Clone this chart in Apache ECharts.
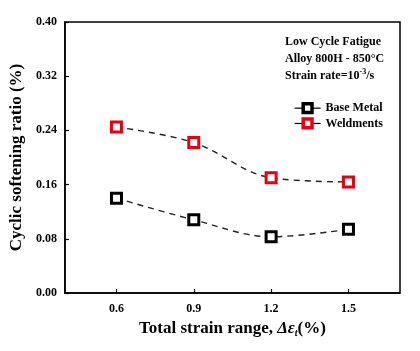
<!DOCTYPE html>
<html><head><meta charset="utf-8">
<script src="https://cdn.jsdelivr.net/npm/echarts@6/dist/echarts.min.js"></script>
<style>html,body{margin:0;padding:0;background:#fff}#c{width:420px;height:351px}</style>
</head><body><div id="c"></div>
<script>
const strain = [0.6, 0.9, 1.2, 1.5];
const baseMetal = [0.140, 0.108, 0.083, 0.094];
const weldments = [0.245, 0.222, 0.170, 0.164];
const xTicks = [0.6, 0.9, 1.2, 1.5];
const seriesNames = ['Base Metal', 'Weldments'];
const F = 'Liberation Serif';

const chart = echarts.init(document.getElementById('c'));
function mk(name, vals, color) {
  return {
    name: name, type: 'line', smooth: 0.35,
    data: strain.map((x, i) => [x, vals[i]]),
    symbol: 'rect', symbolSize: 10,
    itemStyle: { color: '#fff', borderColor: color, borderWidth: 3 },
    lineStyle: { color: '#222', width: 1.4, type: [6, 5] },
    emphasis: { disabled: true }
  };
}
chart.setOption({
  animation: false,
  grid: { left: 63, top: 22, right: 20, bottom: 58, show: true, borderColor: '#000', borderWidth: 1.5 },
  xAxis: {
    type: 'value', min: 0.4, max: 1.7,
    name: '{n|Total strain range, }{i|Δε}{s|t}{n|(%)}',
    nameLocation: 'middle', nameGap: 26,
    nameTextStyle: { rich: {
      n: { fontFamily: F, fontWeight: 'bold', fontSize: 17, color: '#000' },
      i: { fontFamily: F, fontWeight: 'bold', fontStyle: 'italic', fontSize: 17, color: '#000' },
      s: { fontFamily: F, fontWeight: 'bold', fontStyle: 'italic', fontSize: 10, color: '#000', padding: [9, 0, 0, 0] }
    } },
    axisLine: { show: true, lineStyle: { color: '#000', width: 1.5 } },
    axisTick: { show: true, inside: true, length: 4, customValues: xTicks, lineStyle: { color: '#000', width: 1.2 } },
    axisLabel: { customValues: xTicks, formatter: v => v.toFixed(1), fontFamily: F, fontWeight: 'bold', fontSize: 12, color: '#000', margin: 10 },
    splitLine: { show: false }
  },
  yAxis: {
    type: 'value', min: 0, max: 0.4, interval: 0.08,
    name: 'Cyclic softening ratio (%)', nameLocation: 'middle', nameGap: 31,
    nameTextStyle: { fontFamily: F, fontWeight: 'bold', fontSize: 17, color: '#000' },
    axisLine: { show: true, lineStyle: { color: '#000', width: 1.5 } },
    axisTick: { show: true, inside: true, length: 4, lineStyle: { color: '#000', width: 1.2 } },
    axisLabel: { formatter: v => v.toFixed(2), fontFamily: F, fontWeight: 'bold', fontSize: 12, color: '#000', margin: 8 },
    splitLine: { show: false }
  },
  legend: {
    data: seriesNames, orient: 'vertical', left: 289, top: 97,
    itemWidth: 26, itemHeight: 11, itemGap: 3,
    lineStyle: { type: 'solid', color: '#000', width: 1.2 },
    itemStyle: { borderWidth: 3.5 },
    textStyle: { fontFamily: F, fontWeight: 'bold', fontSize: 12, color: '#000' },
    selectedMode: false
  },
  graphic: [{
    type: 'text', left: 285, top: 36,
    style: {
      text: '{a|Low Cycle Fatigue}\n{a|Alloy 800H - 850°C}\n{a|Strain rate=10}{s|-3}{a|/s}',
      rich: {
        a: { fontFamily: F, fontWeight: 'bold', fontSize: 12, fill: '#000', lineHeight: 17 },
        s: { fontFamily: F, fontWeight: 'bold', fontSize: 8, fill: '#000', lineHeight: 17, verticalAlign: 'top', padding: [0, 0, 6, 0] }
      }
    }
  }],
  series: [mk(seriesNames[0], baseMetal, '#000'), mk(seriesNames[1], weldments, '#e60012')]
});
</script></body></html>
